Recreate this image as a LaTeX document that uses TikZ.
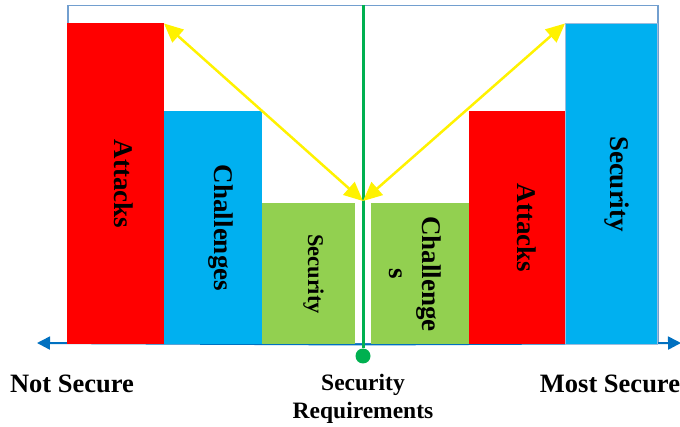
\documentclass[tikz,border=0pt]{standalone}
\usepackage{fontspec}
\setmainfont{Liberation Serif}
\usetikzlibrary{arrows.meta, positioning}

\definecolor{barred}{RGB}{255,0,0}
\definecolor{barblue}{RGB}{0,176,240}
\definecolor{bargreen}{RGB}{146,208,80}
\definecolor{axblue}{RGB}{0,112,192}
\definecolor{framecol}{RGB}{114,159,207}
\definecolor{reqgreen}{RGB}{0,176,80}

\begin{document}
\begin{tikzpicture}[x=1pt, y=-1pt,
                bar/.style={inner sep=0pt, outer sep=0pt, anchor=south west},
                barlabel/.style={rotate=-90, align=center, inner sep=0pt,
                                 font=\fontsize{27}{33}\selectfont\bfseries},
                axlabel/.style={align=center, font=\fontsize{26.5}{30}\selectfont\bfseries},
                axisline/.style={-{Triangle[length=13pt, width=13pt]}, line width=2pt, axblue},
                balance/.style={{Triangle[length=19pt, width=17pt]}-{Triangle[length=19pt, width=17pt]},
                                line width=2.5pt, yellow}]

                \useasboundingbox (0,0) rectangle (680,427);

                % Outer frame
                \node[draw=framecol, line width=1.5pt, inner sep=0pt, anchor=north west,
                      minimum width=590pt, minimum height=338pt] (frame) at (67,5) {};

                % Scale - bottom
                \coordinate (lend) at (37,343);
                \coordinate (rend) at (681,343);
                \coordinate (mid) at (frame.south);
                \draw[axisline] (mid) -- (lend);
                \draw[axisline] (mid) -- (rend);

                % Bars - left side
                \node[bar, fill=barred, minimum width=97pt, minimum height=321pt] (attL) at (frame.south west) {};
                \node[bar, fill=barblue, minimum width=98pt, minimum height=233pt] (chalL) at (attL.south east) {};
                \node[bar, fill=bargreen, minimum width=93pt, minimum height=141pt] (secL) at (chalL.south east) {};

                % Bars - right side
                \node[bar, fill=bargreen, minimum width=98pt, minimum height=141pt] (chalR) at ([xshift=16pt]secL.south east) {};
                \node[bar, fill=barred, minimum width=96pt, minimum height=233pt] (attR) at (chalR.south east) {};
                \node[bar, fill=barblue, draw=framecol!70, line width=1pt, minimum width=92pt, minimum height=321pt] (secR) at (attR.south east) {};

                % Bar labels
                \node[barlabel] (attLtxt) at ([xshift=8pt]attL.center) {Attacks};
                \node[barlabel] (chalLtxt) at ([xshift=8pt]chalL.center) {Challenges};
                \node[barlabel, font=\fontsize{22.5}{27}\selectfont\bfseries] (secLtxt) at ([xshift=5pt]secL.center) {Security};
                \node[barlabel] (chalRtxt) at ([xshift=-5pt]chalR.center) {Challenge\\s};
                \node[barlabel] (attRtxt) at ([xshift=10pt]attR.center) {Attacks};
                \node[barlabel] (secRtxt) at ([xshift=6pt]secR.center) {Security};

                % Requirement line
                \node[circle, fill=reqgreen, minimum size=15pt, inner sep=0pt] (reqdot) at (363,356) {};
                \draw[reqgreen, line width=3pt] (frame.north -| reqdot) -- (reqdot);

                % Balance arrows
                \coordinate (meet) at (363,201);
                \draw[balance] (meet) -- (attL.north east);
                \draw[balance] (meet) -- (secR.north west);

                % Labels
                \node[axlabel] (notsec) at (72,384) {Not Secure};
                \node[axlabel, font=\fontsize{23.5}{28}\selectfont\bfseries] (req) at (363,399) {Security\\Requirements};
                \node[axlabel] (mostsec) at (610,384) {Most Secure};
\end{tikzpicture}
\end{document}
